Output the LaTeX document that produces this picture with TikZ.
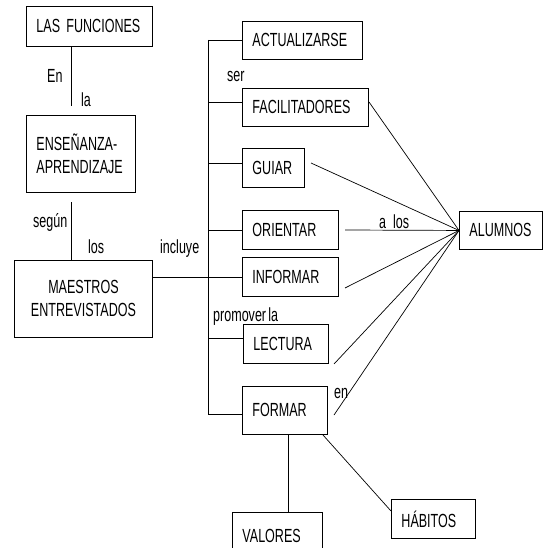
\documentclass[tikz,border=0pt]{standalone}
\usepackage{fontspec}
\setmainfont{Liberation Sans}[FakeStretch=0.66,WordSpace=0.66]
\begin{document}
\begin{tikzpicture}[x=1pt,y=-1pt,
  every node/.style={font=\fontsize{19}{23}\selectfont},
  box/.style={draw, line width=0.9pt, inner xsep=10pt, inner ysep=0pt, align=left, anchor=north west},
  lbl/.style={anchor=base west, inner sep=0pt},
  conn/.style={line width=0.9pt}]
\useasboundingbox (0,0) rectangle (543,548);
\clip (0,0) rectangle (543,548);
% boxes
\node[box, minimum width=126pt, minimum height=40pt, text width=106pt] (lasf) at (26,6) {LAS FUNCIONES};
\node[box, minimum width=109pt, minimum height=77pt, text width=89pt] (ensen) at (26,115) {ENSEÑANZA-\\APRENDIZAJE\\[-4pt]};
\node[box, minimum width=138pt, minimum height=77pt, text width=118pt, align=center] (maes) at (14,260) {MAESTROS\\ENTREVISTADOS\\[-4pt]};
\node[box, minimum width=120pt, minimum height=38pt, text width=100pt] (actual) at (242,21) {ACTUALIZARSE};
\node[box, minimum width=126pt, minimum height=38pt, text width=106pt] (facil) at (242,88) {FACILITADORES};
\node[box, minimum width=62pt, minimum height=39pt, text width=42pt] (guiar) at (242,148) {GUIAR};
\node[box, minimum width=96pt, minimum height=39pt, text width=76pt] (orient) at (242,210) {ORIENTAR};
\node[box, minimum width=96pt, minimum height=39pt, text width=76pt] (inform) at (242,257) {INFORMAR};
\node[box, minimum width=85pt, minimum height=39pt, text width=65pt] (lect) at (243,324) {LECTURA};
\node[box, minimum width=85pt, minimum height=48pt, text width=65pt] (formar) at (242,386) {FORMAR\\[-6pt]};
\node[box, minimum width=90pt, minimum height=48pt, text width=70pt] (valores) at (232,512) {VALORES};
\node[box, minimum width=84pt, minimum height=39pt, text width=64pt] (habitos) at (391,499) {HÁBITOS};
\node[box, minimum width=83pt, minimum height=38pt, text width=63pt] (alum) at (459,211) {ALUMNOS};
% left chain
\coordinate (c1) at (71,106);
\coordinate (c2) at (71,202);
\draw[conn] (lasf.south -| c1) -- (c1);
\draw[conn] (c2) -- (maes.north -| c2);
% spine
\coordinate (s1) at (208,40);
\coordinate (s2) at (208,102);
\coordinate (s3) at (208,163);
\coordinate (s4) at (208,230);
\coordinate (s5) at (208,338);
\coordinate (s6) at (208,414);
\coordinate (m1) at (152,277);
\draw[conn] (s1) -- (s6);
\draw[conn] (s1) -- (s1 -| actual.west);
\draw[conn] (s2) -- (s2 -| facil.west);
\draw[conn] (s3) -- (s3 -| guiar.west);
\draw[conn] (s4) -- (s4 -| orient.west);
\draw[conn] (s5) -- (s5 -| lect.west);
\draw[conn] (s6) -- (s6 -| formar.west);
\draw[conn] (m1 -| maes.east) -- (m1 -| inform.west);
% to alumnos
\coordinate (a1) at (369,102);
\coordinate (a2) at (311,163);
\coordinate (a3) at (345,230);
\coordinate (a4) at (345,288);
\coordinate (a5) at (334,364);
\coordinate (a6) at (334,415);
\foreach \p in {a1,a2,a3,a4,a5,a6} \draw[line width=0.7pt] (\p) -- (alum.west);
% formar children
\coordinate (f1) at (288,434);
\coordinate (f2) at (323,435);
\coordinate (h1) at (391,511);
\draw[line width=0.7pt] (f1) -- (f1 |- valores.north);
\draw[line width=0.7pt] (f2) -- (h1);
% labels
\node[lbl] (lEn) at (47,83) {En};
\node[lbl] (lla) at (81,107) {la};
\node[lbl] (lsegun) at (33,227) {según};
\node[lbl] (llos) at (88,253) {los};
\node[lbl] (lincl) at (160,253) {incluye};
\node[lbl] (lser) at (227,82) {ser};
\node[lbl] (lalos) at (379,228) {a\hspace{7pt}los};
\node[lbl] (lprom) at (213,321) {promover la};
\node[lbl] (len) at (334,398) {en};
\end{tikzpicture}
\end{document}
